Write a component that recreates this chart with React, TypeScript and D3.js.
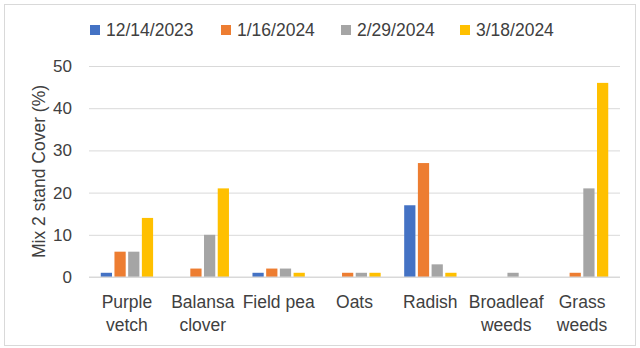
import * as d3 from "d3";
import React, { useEffect, useRef } from "react";

const categories = [
  "Purple vetch",
  "Balansa clover",
  "Field pea",
  "Oats",
  "Radish",
  "Broadleaf weeds",
  "Grass weeds",
];
const seriesNames = ["12/14/2023", "1/16/2024", "2/29/2024", "3/18/2024"];
const seriesColors = ["#4472C4", "#ED7D31", "#A5A5A5", "#FFC000"];
const s1 = [1, 0, 1, 0, 17, 0, 0];
const s2 = [6, 2, 2, 1, 27, 0, 1];
const s3 = [6, 10, 2, 1, 3, 1, 21];
const s4 = [14, 21, 1, 1, 1, 0, 46];
const yTicks = [0, 10, 20, 30, 40, 50];
const yTitle = "Mix 2 stand Cover (%)";

const App = () => {
  const svgRef = useRef<SVGSVGElement>(null);
  useEffect(() => {
    const width = 640;
    const height = 348;
    const font = "'Liberation Sans', Arial, sans-serif";
    const textColor = "#404040";
    const svg = d3.select(svgRef.current).attr("width", width).attr("height", height);
    svg.selectAll("*").remove();

    // chart border
    svg
      .append("rect")
      .attr("x", 4.5)
      .attr("y", 4.5)
      .attr("width", 631)
      .attr("height", 341)
      .attr("fill", "#fff")
      .attr("stroke", "#D9D9D9");

    const left = 89;
    const right = 620;
    const top = 66;
    const bottom = 277;

    const values = [s1, s2, s3, s4];

    const x0 = d3
      .scaleBand()
      .domain(categories)
      .range([left, right])
      .paddingInner(0.31)
      .paddingOuter(0.155);
    const x1 = d3
      .scaleBand()
      .domain(seriesNames)
      .range([0, x0.bandwidth()])
      .paddingInner(0.18)
      .paddingOuter(0);
    const y = d3.scaleLinear().domain([0, 50]).range([bottom, top]);

    // gridlines
    const yAxis = d3
      .axisLeft(y)
      .tickValues(yTicks)
      .tickSize(-(right - left))
      .tickPadding(17);
    const gy = svg.append("g").attr("transform", `translate(${left},0)`).call(yAxis);
    gy.select(".domain").remove();
    gy.selectAll(".tick line").attr("stroke", "#D9D9D9");
    gy.selectAll(".tick text")
      .attr("fill", textColor)
      .style("font-family", font)
      .style("font-size", "17px");

    // bars
    values.forEach((vals, si) => {
      svg
        .append("g")
        .selectAll("rect")
        .data(vals)
        .join("rect")
        .attr("x", (_, i) => (x0(categories[i]) ?? 0) + (x1(seriesNames[si]) ?? 0))
        .attr("y", (d) => y(d))
        .attr("width", x1.bandwidth())
        .attr("height", (d) => y(0) - y(d))
        .attr("fill", seriesColors[si]);
    });

    // x axis line
    svg
      .append("line")
      .attr("x1", left)
      .attr("x2", right)
      .attr("y1", y(0))
      .attr("y2", y(0))
      .attr("stroke", "#D9D9D9");

    // category labels
    const xl = svg.append("g");
    categories.forEach((c) => {
      const cx = (x0(c) ?? 0) + x0.bandwidth() / 2;
      const t = xl
        .append("text")
        .attr("text-anchor", "middle")
        .attr("fill", textColor)
        .style("font-family", font)
        .style("font-size", "17.5px");
      const lines = c === "Field pea" ? [c] : c.split(" ");
      lines.forEach((w, k) => {
        t.append("tspan").attr("x", cx).attr("y", 308 + k * 23).text(w);
      });
    });

    // y title
    svg
      .append("text")
      .attr("transform", `translate(45,${(top + bottom) / 2}) rotate(-90)`)
      .attr("text-anchor", "middle")
      .attr("fill", textColor)
      .style("font-family", font)
      .style("font-size", "17.5px")
      .text(yTitle);

    // legend
    const legendX = [90, 221, 341, 460];
    const lg = svg.append("g");
    seriesNames.forEach((n, i) => {
      lg.append("rect")
        .attr("x", legendX[i])
        .attr("y", 25)
        .attr("width", 10)
        .attr("height", 10)
        .attr("fill", seriesColors[i]);
      lg.append("text")
        .attr("x", legendX[i] + 16)
        .attr("y", 36)
        .attr("fill", textColor)
        .style("font-family", font)
        .style("font-size", "17.5px")
        .text(n);
    });
  }, []);

  return <svg ref={svgRef} style={{ position: "absolute", left: 0, top: 0 }}></svg>;
};

export default App;
